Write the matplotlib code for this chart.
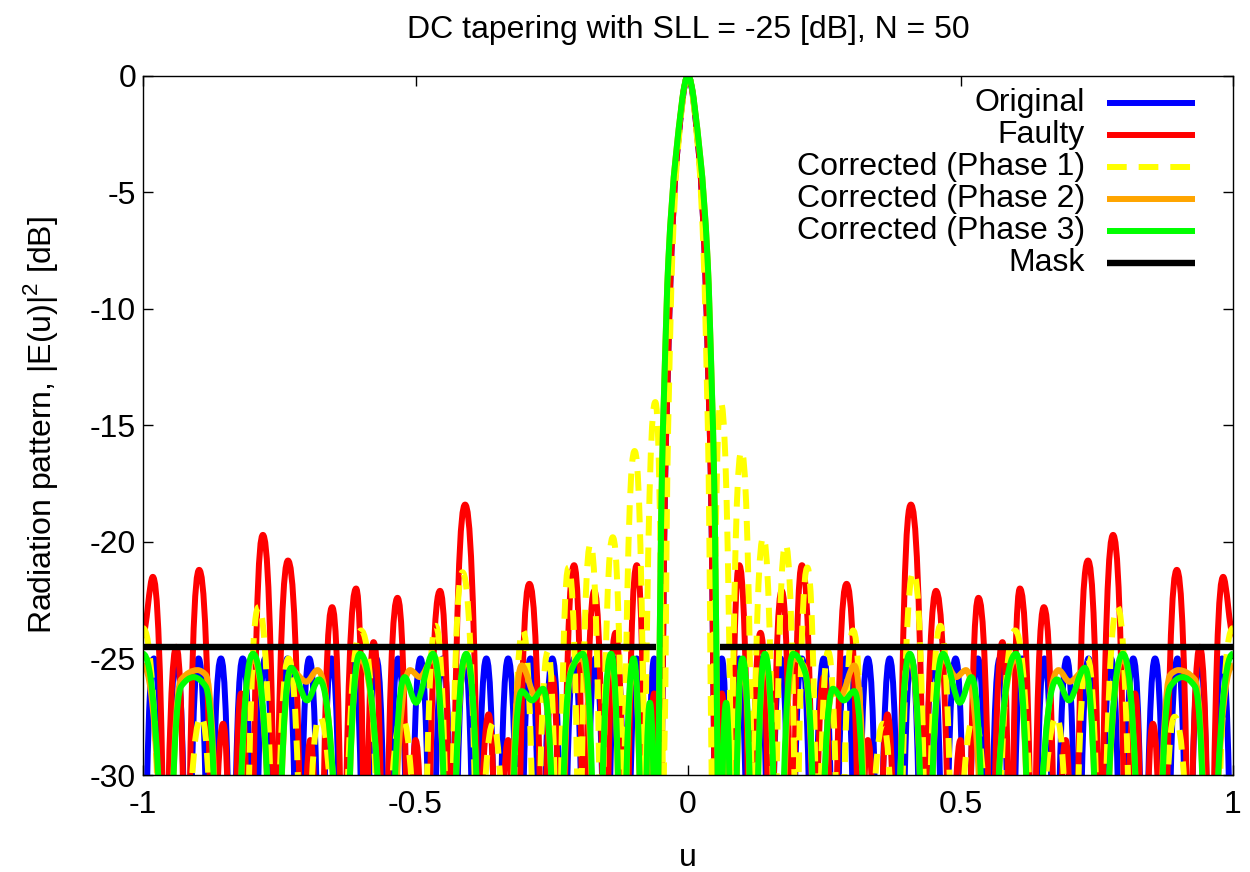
import numpy as np
import matplotlib
matplotlib.use("Agg")
import matplotlib.pyplot as plt
from matplotlib.path import Path
from matplotlib.patches import PathPatch

plt.rcParams['font.family'] = ['Liberation Sans', 'DejaVu Sans']
plt.rcParams['axes.unicode_minus'] = False

# ------------------------------------------------------------------ data
# Patterns are symmetric in u; values are listed for u >= 0 and mirrored.
# *_peak_*: lobe maxima (and shoulders/dips), *_null_u: positions of pattern nulls.
title = "DC tapering with SLL = -25 [dB], N = 50"
x_label = "u"
y_label = "Radiation pattern, |E(u)|$^\\mathregular{2}$ [dB]"
x_ticks = [-1, -0.5, 0, 0.5, 1]
x_tick_labels = ["-1", "-0.5", "0", "0.5", "1"]
y_ticks = [0, -5, -10, -15, -20, -25, -30]
y_tick_labels = ["0", "-5", "-10", "-15", "-20", "-25", "-30"]

# Original
orig_main_u = [0.0, 0.021, 0.031, 0.038, 0.042, 0.046]
orig_main_db = [0.0, -3.6, -7.9, -13.6, -17.3, -25.0]
orig_peak_u = [0.062, 0.094, 0.131, 0.170, 0.209, 0.249, 0.289, 0.330, 0.370, 0.410,
               0.450, 0.491, 0.532, 0.572, 0.613, 0.654, 0.695, 0.735, 0.776, 0.817,
               0.857, 0.898, 0.939, 0.980]
orig_peak_db = [-25.0, -25.0, -25.0, -25.0, -25.0, -25.0, -25.0, -25.0, -25.0, -25.0,
                -25.0, -25.0, -25.0, -25.0, -25.0, -25.0, -25.0, -25.0, -25.0, -25.0,
                -25.0, -25.0, -25.0, -25.0]
orig_null_u = [0.0506, 0.077, 0.112, 0.150, 0.189, 0.229, 0.269, 0.309, 0.350, 0.390,
               0.430, 0.470, 0.511, 0.552, 0.593, 0.634, 0.674, 0.715, 0.756, 0.796,
               0.837, 0.878, 0.918, 0.959, 1.000]

# Faulty
faulty_main_u = [0.0, 0.021, 0.031, 0.038, 0.042, 0.046]
faulty_main_db = [0.0, -3.6, -7.9, -13.6, -17.3, -25.0]
faulty_peak_u = [0.062, 0.094, 0.133, 0.172, 0.209, 0.249, 0.291, 0.330, 0.366, 0.409,
                 0.455, 0.500, 0.533, 0.577, 0.609, 0.653, 0.693, 0.734, 0.780, 0.820,
                 0.853, 0.897, 0.939, 0.982, 1.000]
faulty_peak_db = [-26.5, -21.0, -23.9, -22.1, -21.0, -25.8, -21.8, -28.5, -27.4, -18.4,
                  -22.1, -28.5, -22.4, -24.3, -22.0, -22.8, -28.5, -20.8, -19.7, -26.5,
                  -27.8, -21.2, -24.5, -21.5, -24.0]
faulty_null_u = [0.0506, 0.076, 0.114, 0.152, 0.191, 0.232, 0.266, 0.316, 0.348, 0.384,
                 0.434, 0.482, 0.512, 0.557, 0.592, 0.633, 0.676, 0.708, 0.757, 0.803,
                 0.836, 0.872, 0.920, 0.959]

# Corrected (Phase 1)
p1_main_u = [0.0, 0.020, 0.029, 0.035, 0.038, 0.041]
p1_main_db = [0.0, -3.6, -7.9, -13.6, -17.3, -25.0]
p1_peak_u = [0.060, 0.098, 0.138, 0.179, 0.219, 0.257, 0.303, 0.358, 0.414, 0.463,
             0.525, 0.600, 0.676, 0.733, 0.788, 0.893, 1.000]
p1_peak_db = [-14.0, -16.1, -19.8, -20.1, -21.1, -24.7, -23.8, -27.8, -21.3, -23.6,
              -27.5, -23.8, -27.5, -25.0, -22.8, -27.5, -23.7]
p1_null_u = [0.046, 0.079, 0.118, 0.159, 0.199, 0.238, 0.279, 0.328, 0.385, 0.438,
             0.488, 0.560, 0.638, 0.705, 0.758, 0.815, 0.865, 0.930, 0.962]

# Corrected (Phase 2)
p2_main_u = [0.0, 0.023, 0.036, 0.044, 0.048, 0.053]
p2_main_db = [0.0, -3.6, -7.9, -13.6, -17.3, -27.0]
p2_peak_u = [0.070, 0.100, 0.141, 0.195, 0.212, 0.266, 0.280, 0.305, 0.407, 0.468,
             0.492, 0.510, 0.602, 0.680, 0.700, 0.728, 0.798, 0.885, 0.900, 0.930, 1.000]
p2_peak_db = [-27.5, -25.2, -25.0, -25.0, -25.3, -26.4, -26.6, -25.3, -25.0, -25.0,
              -25.8, -25.5, -25.0, -25.5, -26.0, -25.5, -25.0, -25.7, -25.5, -25.9, -25.3]
p2_null_u = [0.057, 0.082, 0.121, 0.166, 0.238, 0.333, 0.377, 0.437, 0.550, 0.632,
             0.757, 0.835, 0.858, 0.955]

# Corrected (Phase 3)
p3_main_u = [0.0, 0.023, 0.036, 0.044, 0.048, 0.053]
p3_main_db = [0.0, -3.6, -7.9, -13.6, -17.3, -27.0]
p3_peak_u = [0.070, 0.100, 0.141, 0.193, 0.215, 0.266, 0.286, 0.305, 0.407, 0.468,
             0.499, 0.520, 0.602, 0.677, 0.699, 0.728, 0.798, 0.885, 0.907, 0.930, 1.000]
p3_peak_db = [-26.9, -25.0, -24.8, -24.8, -25.6, -26.3, -26.8, -26.4, -24.8, -24.8,
              -26.9, -25.8, -24.8, -25.9, -26.8, -25.4, -24.8, -26.2, -25.8, -26.2, -24.8]
p3_null_u = [0.057, 0.082, 0.121, 0.166, 0.238, 0.333, 0.377, 0.437, 0.550, 0.632,
             0.757, 0.835, 0.858, 0.955]

# Mask
mask_db = -24.5
mask_u = [0.058, 1.0]

series_labels = ["Original", "Faulty", "Corrected (Phase 1)", "Corrected (Phase 2)",
                 "Corrected (Phase 3)", "Mask"]
series_colors = ["#0000ff", "#ff0000", "#ffff00", "#ffa500", "#00ff00", "#000000"]

# ------------------------------------------------------------------ drawing helpers
DELTA = 16.5       # drawn depth of a null below its neighbouring lobe (off-axes)
KN = 2.5           # flank steepness into a null
FLOOR = -45.0      # level used between two consecutive nulls (off-axes)


def full_curve(main_u, main_db, peak_u, peak_db, null_u):
    u = np.array(list(main_u) + list(peak_u) + list(null_u), float)
    y = np.array(list(main_db) + list(peak_db) + [np.nan] * len(null_u), float)
    order = np.argsort(u)
    u, y = u[order], y[order]
    uf = np.concatenate([-u[::-1], u[1:]])
    yf = np.concatenate([y[::-1], y[1:]])
    return uf, yf


def smooth_path(u, y):
    n = len(u)
    nul = np.isnan(y)

    def seen(j, ref):
        return y[ref] - DELTA if nul[j] else y[j]

    m = np.zeros(n)
    for k in range(1, n - 1):
        if nul[k]:
            continue
        h0, h1 = u[k] - u[k - 1], u[k + 1] - u[k]
        d0 = (y[k] - seen(k - 1, k)) / h0
        d1 = (seen(k + 1, k) - y[k]) / h1
        if d0 * d1 > 0:
            w1, w2 = 2 * h1 + h0, h1 + 2 * h0
            m[k] = (w1 + w2) / (w1 / d0 + w2 / d1)

    verts, codes = [], []
    for k in range(n - 1):
        h = u[k + 1] - u[k]
        if nul[k] and nul[k + 1]:
            y0, y1, m0, m1 = FLOOR, FLOOR, 0.0, 0.0
        elif nul[k]:
            y1, m1 = y[k + 1], m[k + 1]
            y0 = y1 - DELTA
            m0 = KN * (y1 - y0) / h
        elif nul[k + 1]:
            y0, m0 = y[k], m[k]
            y1 = y0 - DELTA
            m1 = KN * (y1 - y0) / h
        else:
            y0, y1, m0, m1 = y[k], y[k + 1], m[k], m[k + 1]
        p0 = (u[k], y0)
        if not verts:
            verts.append(p0); codes.append(Path.MOVETO)
        elif verts[-1] != p0:
            verts.append(p0); codes.append(Path.LINETO)
        verts += [(u[k] + h / 3, y0 + m0 * h / 3),
                  (u[k + 1] - h / 3, y1 - m1 * h / 3),
                  (u[k + 1], y1)]
        codes += [Path.CURVE4] * 3
    return Path(verts, codes)


# ------------------------------------------------------------------ figure
fig = plt.figure(figsize=(12.5, 8.72), dpi=100)
ax = fig.add_axes([143 / 1250, 1 - 775 / 872, 1090 / 1250, 699.3 / 872])

LW = 4.3
dash = (0, (3.3, 2.0))
curves = [
    (orig_main_u, orig_main_db, orig_peak_u, orig_peak_db, orig_null_u),
    (faulty_main_u, faulty_main_db, faulty_peak_u, faulty_peak_db, faulty_null_u),
    (p1_main_u, p1_main_db, p1_peak_u, p1_peak_db, p1_null_u),
    (p2_main_u, p2_main_db, p2_peak_u, p2_peak_db, p2_null_u),
    (p3_main_u, p3_main_db, p3_peak_u, p3_peak_db, p3_null_u),
]
for i, c in enumerate(curves):
    uf, yf = full_curve(*c)
    patch = PathPatch(smooth_path(uf, yf), facecolor='none', edgecolor=series_colors[i],
                      lw=LW, linestyle=dash if i == 2 else '-', capstyle='butt',
                      joinstyle='round', zorder=2 + 0.05 * i)
    ax.add_patch(patch)

for sgn in (-1, 1):
    ax.plot([sgn * mask_u[0], sgn * mask_u[1]], [mask_db, mask_db], color='black',
            lw=4.6, solid_capstyle='butt', zorder=2.4)

ax.set_xlim(-1, 1)
ax.set_ylim(-30, 0)
ax.set_xticks(x_ticks)
ax.set_xticklabels(x_tick_labels)
ax.set_yticks(y_ticks)
ax.set_yticklabels(y_tick_labels)
ax.tick_params(direction='in', length=7.2, width=1.0, labelsize=23,
               top=True, right=True)
ax.tick_params(axis='x', pad=11)
ax.tick_params(axis='y', pad=5)
for s in ax.spines.values():
    s.set_linewidth(1.0)
    s.set_zorder(3)

ax.set_title(title, fontsize=23, pad=27)
ax.set_xlabel(x_label, fontsize=23)
ax.xaxis.set_label_coords(0.5, -0.097)
ax.set_ylabel(y_label, fontsize=23)
ax.yaxis.set_label_coords(-0.076, 0.5)

# key (gnuplot style: right-aligned text, sample line to the right)
row0, drow = 0.9605, 0.0458
for i, lab in enumerate(series_labels):
    yy = row0 - i * drow
    ax.text(0.864, yy, lab, transform=ax.transAxes, ha='right', va='center', fontsize=23)
    ax.plot([0.884, 0.965], [yy, yy], transform=ax.transAxes, color=series_colors[i],
            lw=LW if i < 5 else 4.6, linestyle=dash if i == 2 else '-',
            solid_capstyle='butt', dash_capstyle='butt', clip_on=False, zorder=4)

fig.savefig("out.png", dpi=100)
